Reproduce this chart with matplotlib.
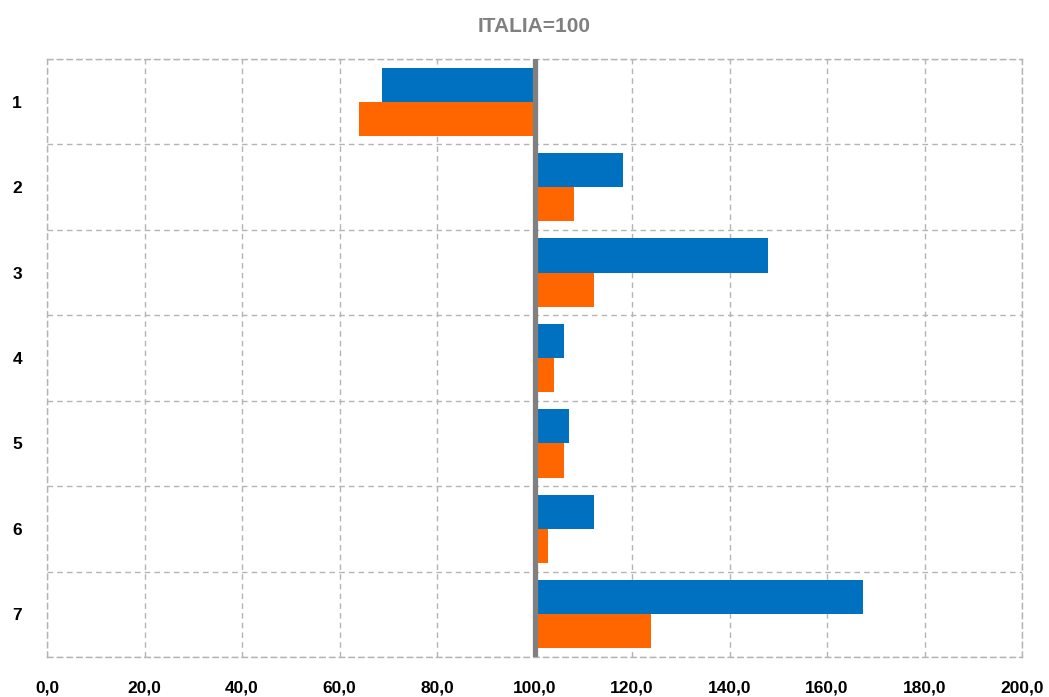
import matplotlib
matplotlib.use("Agg")
import matplotlib.pyplot as plt
import numpy as np

plt.rcParams['font.family'] = ['Liberation Sans Narrow', 'Liberation Sans', 'DejaVu Sans']

categories = ["1", "2", "3", "4", "5", "6", "7"]
serie_blu = [68.7, 118.2, 147.9, 106.1, 107.1, 112.3, 167.4]
serie_arancio = [64.1, 108.1, 112.3, 104.1, 106.1, 102.8, 123.8]
base = 100.0
xticks = list(range(0, 201, 20))
xtick_labels = [f"{v},0" for v in xticks]

fig = plt.figure(figsize=(10.49, 6.97), dpi=100)
ax = fig.add_axes([47/1049, 1 - 657/697, 975/1049, 598/697])

y = np.arange(len(categories))
h = 0.4
ax.barh(y - h/2, np.array(serie_blu) - base, left=base, height=h,
        color="#0070C0", zorder=2)
ax.barh(y + h/2, np.array(serie_arancio) - base, left=base, height=h,
        color="#FF6600", zorder=2)
ax.axvline(base, color="#808080", linewidth=3.8, zorder=3)

ax.set_xlim(0, 200)
ax.set_ylim(len(categories) - 0.5, -0.5)
ax.set_xticks(xticks)
ax.set_xticklabels(xtick_labels, fontsize=12.5, fontweight="bold")
ax.set_yticks(y)
ax.set_yticklabels(categories, fontsize=12.5, fontweight="bold")
ax.set_yticks(np.arange(-0.5, len(categories), 1.0), minor=True)
ax.tick_params(axis="both", which="both", length=0)
ax.tick_params(axis="x", pad=17)
ax.tick_params(axis="y", pad=18)

grid_style = dict(color="#b4b4b4", linestyle=(0, (4, 3)), linewidth=1)
for s in ax.spines.values():
    s.set_color(grid_style["color"])
    s.set_linestyle(grid_style["linestyle"])
    s.set_linewidth(grid_style["linewidth"])
    s.set_zorder(0)
ax.grid(axis="x", which="major", zorder=0, **grid_style)
ax.grid(axis="y", which="minor", zorder=0, **grid_style)
ax.grid(axis="y", which="major", visible=False)

fig.text(534/1049, 1 - 27/697, "ITALIA=100", ha="center", va="center",
         fontsize=15, fontweight="bold", color="#808080")

fig.savefig("out.png", dpi=100)
